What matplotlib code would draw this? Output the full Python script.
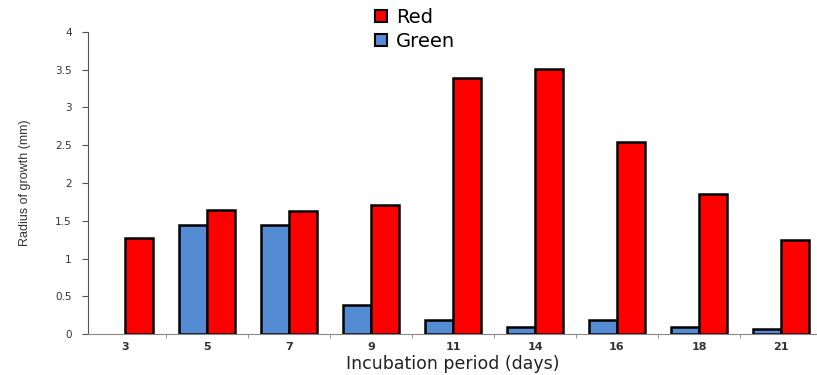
import numpy as np
import matplotlib.pyplot as plt
from matplotlib.lines import Line2D

days = ['3', '5', '7', '9', '11', '14', '16', '18', '21']
red = [1.27, 1.64, 1.63, 1.71, 3.39, 3.51, 2.54, 1.85, 1.25]
green = [0.0, 1.44, 1.44, 0.38, 0.19, 0.09, 0.19, 0.09, 0.07]
y_ticks = [0, 0.5, 1, 1.5, 2, 2.5, 3, 3.5, 4]

red_color = '#ff0000'
blue_color = '#558bd3'

fig = plt.figure(figsize=(8.17, 3.75), dpi=100)
ax = fig.add_axes([0.108, 0.109, 0.892, 0.806])

x = np.arange(len(days))
w = 0.34
# no outline on empty bars
green_lw = [1.8 if v > 0 else 0 for v in green]
ax.bar(x - w / 2, green, w, color=blue_color, edgecolor='black', linewidth=green_lw)
ax.bar(x + w / 2, red, w, color=red_color, edgecolor='black', linewidth=1.8)

ax.set_xlim(-0.45, 8.44)
ax.set_ylim(0, 4)
ax.set_yticks(y_ticks)
ax.set_yticklabels([('%g' % v) for v in y_ticks], fontsize=7.5, color='#333333')
ax.set_xticks(x)
ax.set_xticklabels(days, fontsize=8, color='#333333', fontweight='bold')
ax.set_xticks(x[:-1] + 0.5, minor=True)
ax.tick_params(axis='x', which='major', length=0, pad=6)
ax.tick_params(axis='x', which='minor', length=3, color='#888888')
ax.tick_params(axis='y', length=4, color='#555555', pad=8)

for s in ['top', 'right']:
    ax.spines[s].set_visible(False)
ax.spines['left'].set_color('#555555')
ax.spines['left'].set_linewidth(0.8)
ax.spines['bottom'].set_color('#888888')
ax.spines['bottom'].set_linewidth(0.8)
ax.spines['bottom'].set_linestyle((0, (4, 1)))

ax.set_xlabel('Incubation period (days)', fontsize=12.5, color='#222222', labelpad=2)
ax.set_ylabel('Radius of growth (mm)', fontsize=9, color='#333333',
              family='Liberation Sans', labelpad=17)

handles = [
    Line2D([], [], marker='s', linestyle='none', markersize=8,
           markerfacecolor=red_color, markeredgecolor='black', markeredgewidth=1.5),
    Line2D([], [], marker='s', linestyle='none', markersize=8,
           markerfacecolor=blue_color, markeredgecolor='black', markeredgewidth=1.5),
]
fig.legend(handles, ['Red', 'Green'], loc='upper left', bbox_to_anchor=(0.447, 1.0),
           frameon=False, fontsize=14, handlelength=0.8, handletextpad=0.4,
           labelspacing=0.25, borderaxespad=0)

fig.savefig('out.png', dpi=100)
